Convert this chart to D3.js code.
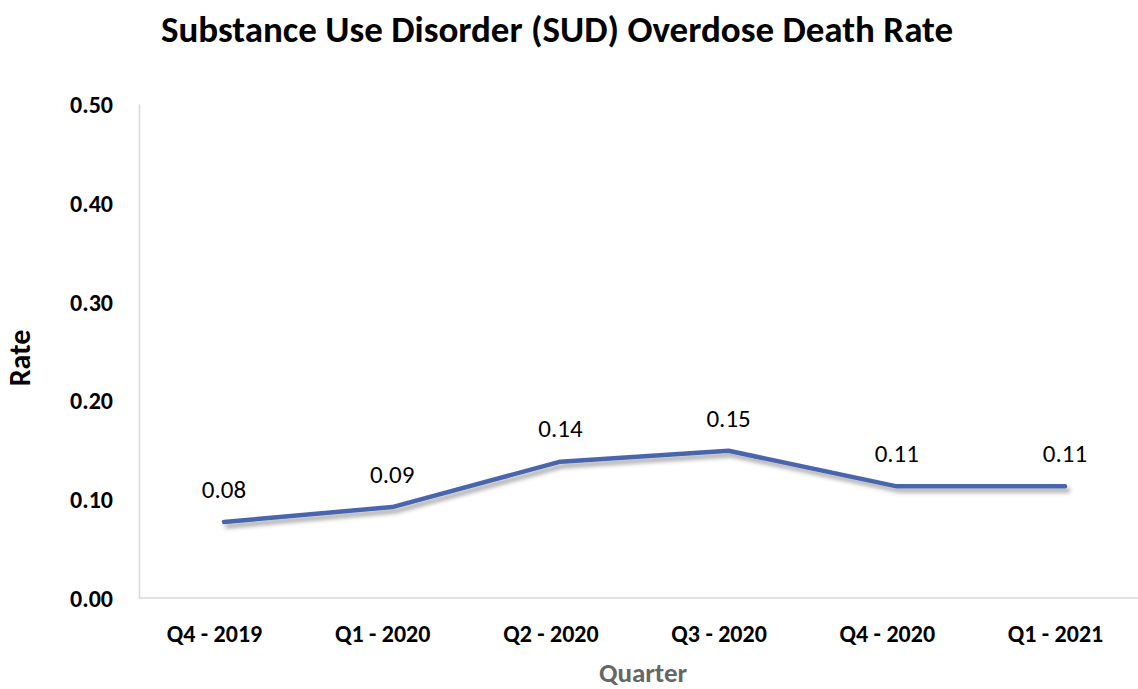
<!DOCTYPE html>
<html>
<head>
<meta charset="utf-8">
<script src="https://cdn.jsdelivr.net/npm/d3@7"></script>
<style>
  html, body { margin: 0; padding: 0; background: #fff; }
  svg { display: block; }
  text { font-family: Carlito, Calibri, Lato, "Liberation Sans", sans-serif; }
</style>
</head>
<body>
<svg id="chart" width="1138" height="689"></svg>
<script>
// Quarterly SUD overdose death rate
const quarters = ["Q4 - 2019", "Q1 - 2020", "Q2 - 2020", "Q3 - 2020", "Q4 - 2020", "Q1 - 2021"];
const rates = [0.077, 0.092, 0.138, 0.149, 0.113, 0.113];
const yTicks = [0, 0.1, 0.2, 0.3, 0.4, 0.5];

const svg = d3.select("#chart");
const plot = { left: 139, right: 1138, top: 104, bottom: 598 };

const x = d3.scalePoint().domain(quarters).range([224, 1065]);
const y = d3.scaleLinear().domain([0, 0.5]).range([plot.bottom, plot.top]);

// soft drop shadow under the series line
const defs = svg.append("defs");
const f = defs.append("filter").attr("id", "shadow")
  .attr("x", "-10%").attr("y", "-50%").attr("width", "120%").attr("height", "200%");
f.append("feDropShadow").attr("dx", 3).attr("dy", 4).attr("stdDeviation", 2.2)
  .attr("flood-color", "#000").attr("flood-opacity", 0.35);

// title
svg.append("text")
  .attr("x", 557).attr("y", 42)
  .attr("text-anchor", "middle")
  .style("font-size", "37px").style("font-weight", "bold").style("fill", "#000")
  .text("Substance Use Disorder (SUD) Overdose Death Rate");

// y axis
const yAxis = svg.append("g").attr("transform", `translate(${plot.left},0)`)
  .call(d3.axisLeft(y).tickValues(yTicks).tickFormat(d3.format(".2f")).tickSize(0).tickPadding(26));
yAxis.select(".domain").attr("stroke", "#d9d9d9").attr("stroke-width", 1.5);
yAxis.selectAll("text")
  .style("font-size", "24px").style("font-weight", "bold").style("fill", "#000")
  .attr("dy", "0.35em");

// x axis
const xAxis = svg.append("g").attr("transform", `translate(0,${plot.bottom})`)
  .call(d3.axisBottom(x).tickSize(0).tickPadding(0));
xAxis.select(".domain").attr("d", `M${plot.left},0H${plot.right}`)
  .attr("stroke", "#d9d9d9").attr("stroke-width", 1.5);
xAxis.selectAll("text")
  .style("font-size", "24px").style("font-weight", "bold").style("fill", "#000")
  .attr("x", -10).attr("y", 44).attr("dy", 0);

// axis titles
svg.append("text")
  .attr("transform", `translate(30,358) rotate(-90)`)
  .attr("text-anchor", "middle")
  .style("font-size", "30px").style("font-weight", "bold").style("fill", "#000")
  .text("Rate");
svg.append("text")
  .attr("x", 643).attr("y", 682)
  .attr("text-anchor", "middle")
  .style("font-size", "27px").style("font-weight", "bold").style("fill", "#666666")
  .text("Quarter");

// series line
const line = d3.line().x((d, i) => x(quarters[i])).y(d => y(d));
svg.append("path")
  .datum(rates)
  .attr("d", line)
  .attr("fill", "none")
  .attr("stroke", "#4a66ac")
  .attr("stroke-width", 4.5)
  .attr("stroke-linecap", "round")
  .attr("stroke-linejoin", "round")
  .attr("filter", "url(#shadow)");

// data labels
svg.append("g").selectAll("text")
  .data(rates)
  .join("text")
  .attr("x", (d, i) => x(quarters[i]))
  .attr("y", d => y(d) - 33)
  .attr("dy", "0.35em")
  .attr("text-anchor", "middle")
  .style("font-size", "25px").style("fill", "#000")
  .text(d => d3.format(".2f")(d));
</script>
</body>
</html>
